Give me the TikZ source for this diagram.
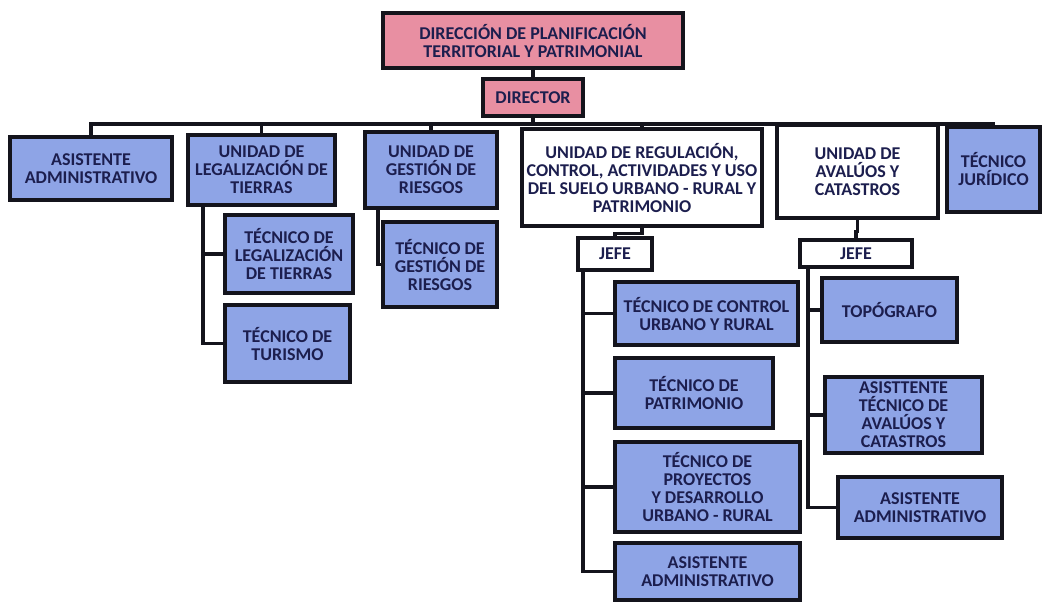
\documentclass[tikz,border=0pt]{standalone}
\usepackage{fontspec}
\setmainfont{Carlito}
\usetikzlibrary{calc}
\definecolor{boxblue}{RGB}{142,164,230}
\definecolor{boxpink}{RGB}{232,143,162}
\definecolor{inkline}{RGB}{20,20,28}
\definecolor{inktext}{RGB}{28,30,78}
\tikzset{
  unit/.style={draw=inkline, line width=3.2pt, rectangle, align=center,
    inner sep=2pt, text=inktext,
    font=\fontsize{18}{18}\selectfont\bfseries},
  bluebox/.style={unit, fill=boxblue},
  pinkbox/.style={unit, fill=boxpink},
  whitebox/.style={unit, fill=white},
  link/.style={draw=inkline, line width=3.2pt},
}
\begin{document}
\begin{tikzpicture}[x=1pt, y=-1pt]
\useasboundingbox (0,0) rectangle (1043,606);

% connectors, drawn first so that the boxes sit on top of them
\coordinate (bus) at (533,124);
\coordinate (ulsp) at (203,205);
\coordinate (ugsp) at (378,208);
\coordinate (j1sp) at (583,270);
\coordinate (j2sp) at (808,267);

% head of the department
\node[pinkbox, minimum width=300pt, minimum height=55pt] (top) at (533,40.5)
  {DIRECCIÓN DE PLANIFICACIÓN\\TERRITORIAL Y PATRIMONIAL};
\node[pinkbox, minimum width=100pt, minimum height=37pt] (dir) at (533,97.5) {DIRECTOR};

% first level
\node[bluebox, minimum width=162pt, minimum height=63pt] (aa) at (91,168.5)
  {ASISTENTE\\ADMINISTRATIVO};
\node[bluebox, minimum width=147pt, minimum height=70pt] (ul) at (261.5,170)
  {UNIDAD DE\\LEGALIZACIÓN DE\\TIERRAS};
\node[bluebox, minimum width=132pt, minimum height=76pt] (ug) at (431,170)
  {UNIDAD DE\\GESTIÓN DE\\RIESGOS};
\node[whitebox, minimum width=240pt, minimum height=97pt] (ur) at (642,177.5)
  {UNIDAD DE REGULACIÓN,\\CONTROL, ACTIVIDADES Y USO\\DEL SUELO URBANO - RURAL Y\\PATRIMONIO};
\node[whitebox, minimum width=161pt, minimum height=93pt] (ua) at (857.5,171.5)
  {UNIDAD DE\\AVALÚOS Y\\CATASTROS};
\node[bluebox, minimum width=93pt, minimum height=85pt] (tj) at (993.5,169.5)
  {TÉCNICO\\JURÍDICO};

% heads of unit
\node[whitebox, minimum width=74pt, minimum height=32pt] (j1) at (615,254) {JEFE};
\node[whitebox, minimum width=112pt, minimum height=27pt] (j2) at (856,253.5) {JEFE};

% staff of the land legalisation unit
\node[bluebox, minimum width=128pt, minimum height=78pt] (tl) at (289,254)
  {TÉCNICO DE\\LEGALIZACIÓN\\DE TIERRAS};
\node[bluebox, minimum width=125pt, minimum height=77pt] (tt) at (287.5,343.5)
  {TÉCNICO DE\\TURISMO};

% staff of the risk unit
\node[bluebox, minimum width=114pt, minimum height=85pt] (tg) at (440,264.5)
  {TÉCNICO DE\\GESTIÓN DE\\RIESGOS};

% staff of the regulation unit
\node[bluebox, minimum width=183pt, minimum height=63pt] (tc) at (706.5,313.5)
  {TÉCNICO DE CONTROL\\URBANO Y RURAL};
\node[bluebox, minimum width=158pt, minimum height=70pt] (tp) at (694,393)
  {TÉCNICO DE\\PATRIMONIO};
\node[bluebox, minimum width=185pt, minimum height=90pt] (tpy) at (707.5,487)
  {TÉCNICO DE\\PROYECTOS\\Y DESARROLLO\\URBANO - RURAL};
\node[bluebox, minimum width=185pt, minimum height=57pt] (ab) at (707.5,571.5)
  {ASISTENTE\\ADMINISTRATIVO};

% staff of the appraisal unit
\node[bluebox, minimum width=135pt, minimum height=64pt] (topo) at (889.5,310)
  {TOPÓGRAFO};
\node[bluebox, minimum width=157pt, minimum height=76pt] (at) at (903.5,415)
  {ASISTTENTE\\TÉCNICO DE\\AVALÚOS Y\\CATASTROS};
\node[bluebox, minimum width=164pt, minimum height=61pt] (ac) at (920,507.5)
  {ASISTENTE\\ADMINISTRATIVO};

% connectors
\draw[link] (top) -- (dir);
\draw[link] (dir) -- (bus);
\foreach \c in {aa,ul,ug,ur,ua,tj} \draw[link] (bus) -| (\c.north);
\draw[link] (ur.south) -- ++(0,6) -| (j1.north);
\draw[link] (ua.south) -- ++(0,12) -| (j2.north);
\draw[link] (ulsp) |- (tl.west);
\draw[link] (ulsp) |- (tt.west);
\draw[link] (ugsp) |- (tg.west);
\foreach \c in {tc,tp,tpy,ab} \draw[link] (j1sp) |- (\c.west);
\foreach \c in {topo,at,ac} \draw[link] (j2sp) |- (\c.west);
\end{tikzpicture}
\end{document}
